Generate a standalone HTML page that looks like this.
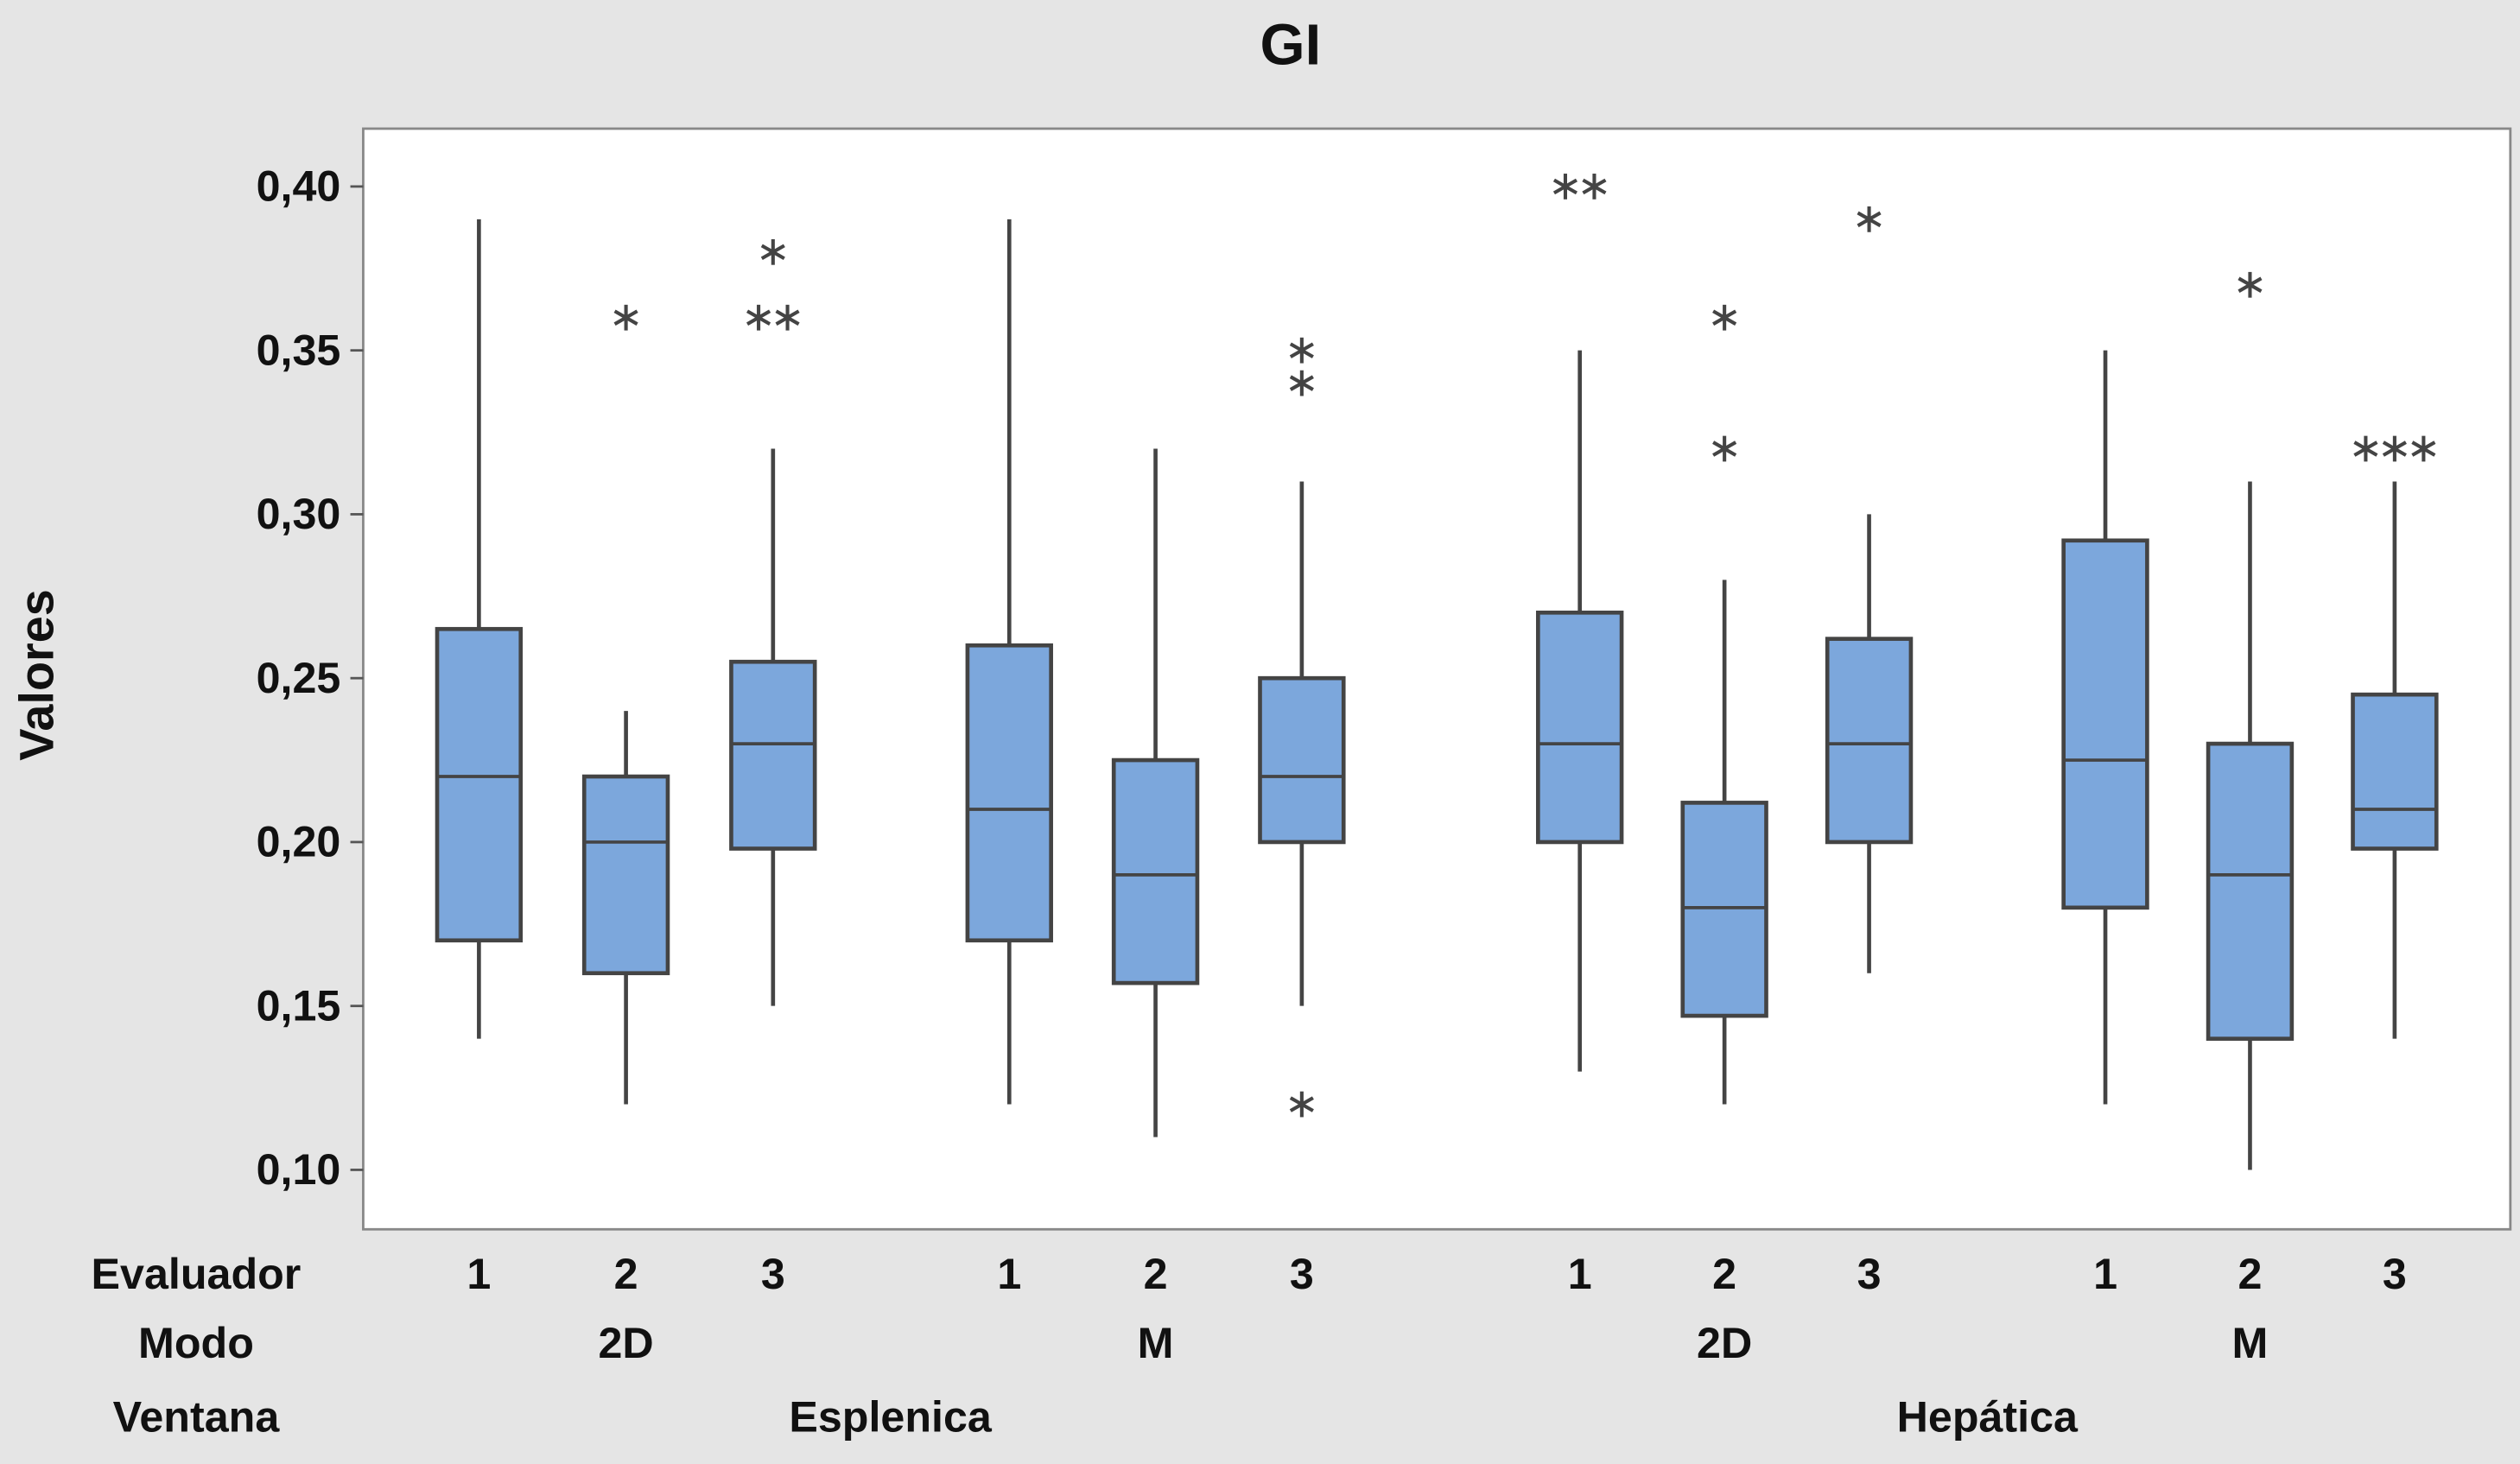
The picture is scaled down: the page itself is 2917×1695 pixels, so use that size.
<!DOCTYPE html>
<html><head><meta charset="utf-8"><style>
html,body{margin:0;padding:0;background:#e5e5e5;}
svg{display:block;font-family:"Liberation Sans",sans-serif;}
</style></head><body>
<svg id="chart" width="2917" height="1695" viewBox="0 0 1568 911" xmlns="http://www.w3.org/2000/svg">
<rect x="0" y="0" width="1568" height="911" fill="#e5e5e5"/>
<text x="803" y="40" text-anchor="middle" font-size="36" font-weight="bold" fill="#111">GI</text>
<rect x="226" y="80" width="1336" height="685" fill="#fff" stroke="#888" stroke-width="1.5"/>
<text transform="translate(33,420) rotate(-90)" text-anchor="middle" font-size="30" font-weight="bold" fill="#111">Valores</text>
<g id="yaxis"></g>
<g id="boxes"></g>
<g id="xlabels"></g>
</svg>
<script>
const yTicks = [0.10,0.15,0.20,0.25,0.30,0.35,0.40];
const evaluators = ["1","2","3","1","2","3","1","2","3","1","2","3"];
const modos = ["2D","M","2D","M"];
const ventanas = ["Esplenica","Hepática"];
const whiskerLow = [0.14,0.12,0.15,0.12,0.11,0.15,0.13,0.12,0.16,0.12,0.10,0.14];
const q1 = [0.17,0.16,0.198,0.17,0.157,0.20,0.20,0.147,0.20,0.18,0.14,0.198];
const medians = [0.22,0.20,0.23,0.21,0.19,0.22,0.23,0.18,0.23,0.225,0.19,0.21];
const q3 = [0.265,0.22,0.255,0.26,0.225,0.25,0.27,0.212,0.262,0.292,0.23,0.245];
const whiskerHigh = [0.39,0.24,0.32,0.39,0.32,0.31,0.35,0.28,0.30,0.35,0.31,0.31];
const outliers = [[],[0.36],[0.38,0.36,0.36],[],[],[0.35,0.34,0.12],[0.40,0.40],[0.36,0.32],[0.39],[],[0.37],[0.32,0.32,0.32]];

const NS="http://www.w3.org/2000/svg";
function yS(v){return 728-(v-0.10)/0.30*612;}
function xS(i){const g=Math.floor(i/3), k=i%3; const starts=[298,628,983,1310]; const steps=[91.5,91,90,90]; return starts[g]+k*steps[g];}
function mk(tag,attrs,parent){const e=document.createElementNS(NS,tag);for(const a in attrs)e.setAttribute(a,attrs[a]);parent.appendChild(e);return e;}
const ya=document.getElementById('yaxis');
yTicks.forEach(t=>{
  const l=mk('line',{x1:218,x2:226,y1:yS(t),y2:yS(t),stroke:'#555','stroke-width':1.5},ya);
  
  
  const tx=mk('text',{x:212,y:yS(t)+9,'text-anchor':'end','font-size':27,'font-weight':'bold',fill:'#111'},ya);
  tx.textContent=t.toFixed(2).replace('.',',');
  
  
});
const bg=document.getElementById('boxes');
const bw=52;
for(let i=0;i<12;i++){
  const x=xS(i);
  const g=mk('g',{},bg);
  
  
  mk('line',{x1:x,x2:x,y1:yS(whiskerHigh[i]),y2:yS(q3[i]),stroke:'#444','stroke-width':2.5},g);
  mk('line',{x1:x,x2:x,y1:yS(q1[i]),y2:yS(whiskerLow[i]),stroke:'#444','stroke-width':2.5},g);
  mk('rect',{x:x-bw/2,y:yS(q3[i]),width:bw,height:yS(q1[i])-yS(q3[i]),fill:'#7ca7dc',stroke:'#444','stroke-width':2.5},g);
  mk('line',{x1:x-bw/2,x2:x+bw/2,y1:yS(medians[i]),y2:yS(medians[i]),stroke:'#444','stroke-width':2},g);
  const counts={};outliers[i].forEach(v=>counts[v]=(counts[v]||0)+1);
  const seen={};
  outliers[i].forEach(v=>{
    const n=counts[v]; const k=(seen[v]=(seen[v]||0)+1)-1;
    const ox=x+(k-(n-1)/2)*18; const oy=yS(v);
    const s=mk('g',{stroke:'#444','stroke-width':2.2},g);
    
    
    mk('line',{x1:ox,x2:ox,y1:oy-8,y2:oy+8},s);
    mk('line',{x1:ox-7,x2:ox+7,y1:oy-4,y2:oy+4},s);
    mk('line',{x1:ox-7,x2:ox+7,y1:oy+4,y2:oy-4},s);
  });
  const et=mk('text',{x:x,y:802,'text-anchor':'middle','font-size':27,'font-weight':'bold',fill:'#111'},document.getElementById('xlabels'));
  et.textContent=evaluators[i];
  
  
}
const xl=document.getElementById('xlabels');
[['Evaluador',802],['Modo',845],['Ventana',891]].forEach(([t,y])=>{
  const e=mk('text',{x:122,y:y,'text-anchor':'middle','font-size':27,'font-weight':'bold',fill:'#111'},xl);
  e.textContent=t;
  
  
});
modos.forEach((m,j)=>{
  const e=mk('text',{x:xS(j*3+1),y:845,'text-anchor':'middle','font-size':27,'font-weight':'bold',fill:'#111'},xl);
  e.textContent=m;
  
  
});
ventanas.forEach((v,j)=>{
  const e=mk('text',{x:(xS(j*6)+xS(j*6+5))/2,y:891,'text-anchor':'middle','font-size':27,'font-weight':'bold',fill:'#111'},xl);
  e.textContent=v;
  
  
});
</script>
</body></html>
